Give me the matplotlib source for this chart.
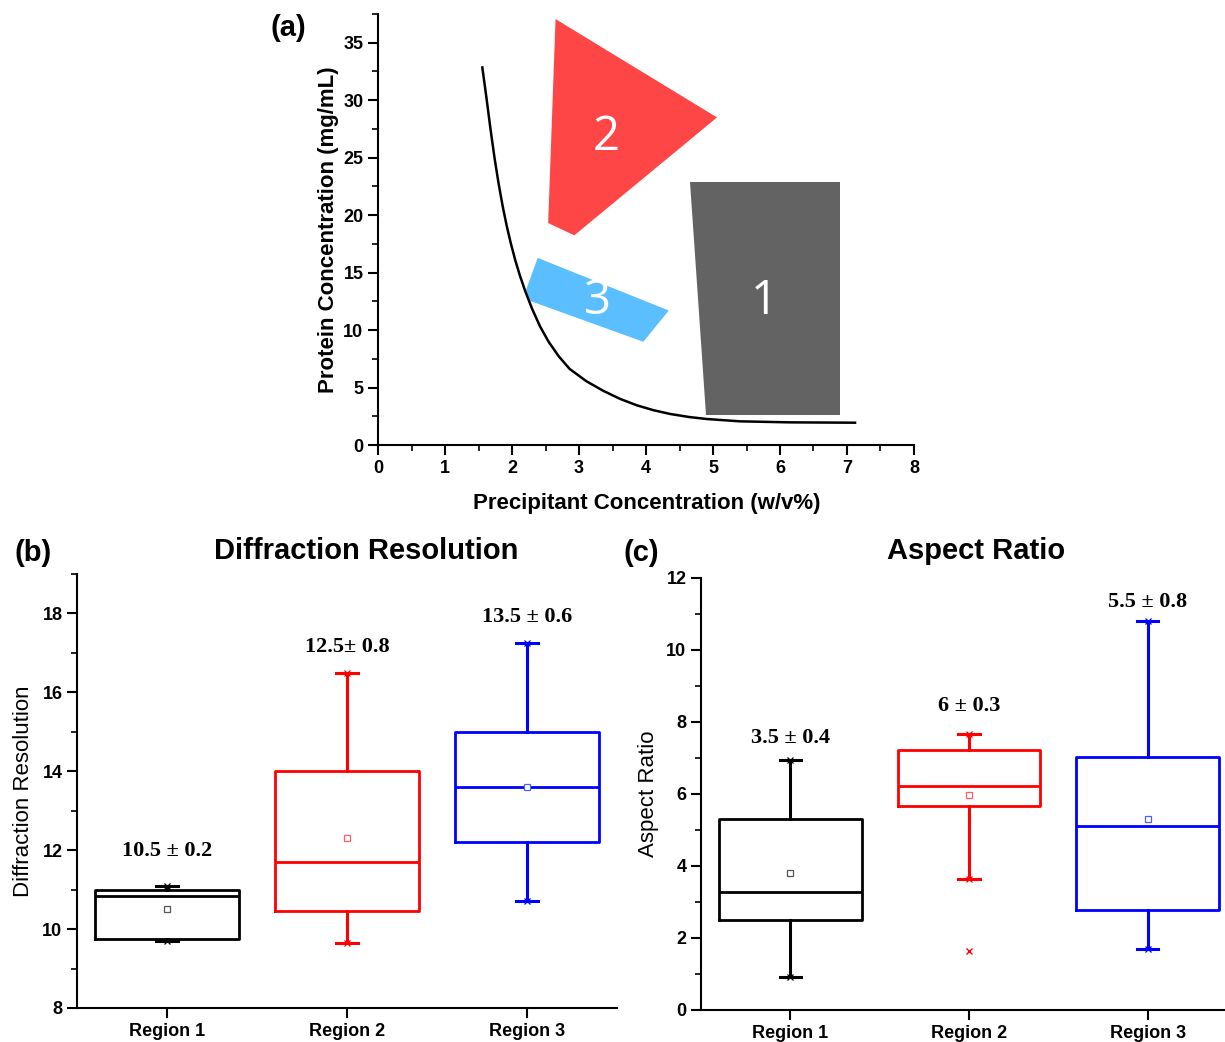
import matplotlib
matplotlib.use('Agg')
import matplotlib.pyplot as plt
from matplotlib.patches import Polygon
from matplotlib.ticker import MultipleLocator

SANS = ['Liberation Sans', 'DejaVu Sans']
SERIF = ['Liberation Serif', 'DejaVu Serif']
plt.rcParams['font.family'] = SANS

# (a) phase diagram: solubility curve
curve_x = [1.557, 1.62, 1.68, 1.74, 1.80, 1.86, 1.92, 1.98, 2.05, 2.12,
           2.20, 2.30, 2.42, 2.55, 2.70, 2.86, 3.11, 3.36, 3.61, 3.86,
           4.11, 4.36, 4.65, 4.91, 5.40, 6.15, 7.12]
curve_y = [32.85, 30.15, 27.45, 24.95, 22.75, 20.80, 19.10, 17.60, 16.05, 14.70,
           13.35, 11.85, 10.30, 8.95, 7.70, 6.62, 5.55, 4.72, 4.02, 3.46,
           3.03, 2.70, 2.43, 2.26, 2.06, 1.97, 1.94]

# shaded regions (polygon corners in data units)
region1_x = [4.66, 6.89, 6.89, 4.90]
region1_y = [22.87, 22.87, 2.60, 2.60]
region2_x = [2.65, 5.06, 2.93, 2.54]
region2_y = [37.06, 28.50, 18.24, 19.31]
region3_x = [2.384, 4.34, 3.96, 2.24, 2.21]
region3_y = [16.28, 11.70, 8.98, 12.60, 13.50]
region_labels = ['1', '2', '3']
label_x = [5.76, 3.40, 3.27]
label_y = [12.5, 26.8, 12.5]

# (b) diffraction resolution box stats
regions = ['Region 1', 'Region 2', 'Region 3']
b_q1 = [9.75, 10.45, 12.21]
b_med = [10.83, 11.71, 13.61]
b_q3 = [11.00, 14.00, 15.00]
b_lo = [9.69, 9.65, 10.71]
b_hi = [11.09, 16.50, 17.24]
b_mean = [10.51, 12.31, 13.60]
b_out = [[], [], []]
b_text = ['10.5 \u00b1 0.2', '12.5\u00b1 0.8', '13.5 \u00b1 0.6']
b_text_y = [11.97, 17.14, 17.90]

# (c) aspect ratio box stats
c_q1 = [2.51, 5.67, 2.79]
c_med = [3.27, 6.23, 5.12]
c_q3 = [5.30, 7.22, 7.02]
c_lo = [0.91, 3.63, 1.69]
c_hi = [6.94, 7.68, 10.81]
c_mean = [3.80, 5.97, 5.31]
c_out = [[], [1.63], []]
c_text = ['3.5 \u00b1 0.4', '6 \u00b1 0.3', '5.5 \u00b1 0.8']
c_text_y = [7.56, 8.44, 11.32]

box_colors = ['black', '#ff0000', '#0000ff']
mean_colors = ['#555555', '#ff6060', '#5060ff']

W, H = 1225, 1042
fig = plt.figure(figsize=(W / 100, H / 100), dpi=100)


def px_axes(left, top, right, bottom):
    return fig.add_axes([left / W, 1 - bottom / H, (right - left) / W, (bottom - top) / H])


def style_axes(ax):
    for s in ['top', 'right']:
        ax.spines[s].set_visible(False)
    for s in ['left', 'bottom']:
        ax.spines[s].set_linewidth(1.5)
    ax.tick_params(which='major', direction='out', length=7, width=1.5, labelsize=13)
    ax.tick_params(which='minor', direction='out', length=4, width=1.2)
    for lab in ax.get_xticklabels() + ax.get_yticklabels():
        lab.set_fontweight('bold')


# ---- panel (a)
ax1 = px_axes(378, 14, 914, 445)
ax1.set_xlim(0, 8)
ax1.set_ylim(0, 37.5)
ax1.xaxis.set_major_locator(MultipleLocator(1))
ax1.xaxis.set_minor_locator(MultipleLocator(0.5))
ax1.yaxis.set_major_locator(MultipleLocator(5))
ax1.yaxis.set_minor_locator(MultipleLocator(2.5))

ax1.add_patch(Polygon(list(zip(region1_x, region1_y)), closed=True, fc='#636363', ec='none', clip_on=False))
ax1.add_patch(Polygon(list(zip(region2_x, region2_y)), closed=True, fc='#ff4646', ec='none', clip_on=False))
ax1.add_patch(Polygon(list(zip(region3_x, region3_y)), closed=True, fc='#5bbfff', ec='none', clip_on=False))
ax1.plot(curve_x, curve_y, color='black', lw=1.8, zorder=3, solid_joinstyle='round')
for t, x, y in zip(region_labels, label_x, label_y):
    ax1.text(x, y, t, color='white', fontsize=34, ha='center', va='center',
             family=['Open Sans', 'DejaVu Sans'], zorder=4)

style_axes(ax1)
ax1.set_ylabel('Protein Concentration (mg/mL)', fontsize=16, fontweight='bold')
ax1.yaxis.set_label_coords(-0.072, 0.5)
ax1.set_xlabel('Precipitant Concentration (w/v%)', fontsize=16, fontweight='bold')
ax1.xaxis.set_label_coords(0.502, -0.112)


def box_panel(ax, q1, med, q3, lo, hi, mean, out, texts, text_y):
    stats = []
    for i in range(3):
        stats.append(dict(q1=q1[i], med=med[i], q3=q3[i], whislo=lo[i], whishi=hi[i],
                          mean=mean[i], fliers=out[i]))
    pos = [1, 2, 3]
    parts = ax.bxp(stats, positions=pos, widths=0.8, capwidths=0.12, showmeans=True,
                   patch_artist=False, manage_ticks=False)
    for i, c in enumerate(box_colors):
        parts['boxes'][i].set(color=c, lw=2)
        parts['medians'][i].set(color=c, lw=2)
        for k in (2 * i, 2 * i + 1):
            parts['whiskers'][k].set(color=c, lw=2.2)
            parts['caps'][k].set(color=c, lw=2.2)
        parts['means'][i].set(marker='s', markersize=4, markerfacecolor='white',
                              markeredgecolor=mean_colors[i], markeredgewidth=0.9)
        parts['fliers'][i].set(marker='x', markersize=5, markeredgecolor=c,
                               markeredgewidth=1)
        ax.plot([pos[i], pos[i]], [lo[i], hi[i]], ls='none', marker='x', markersize=5,
                markeredgecolor=c, markeredgewidth=0.9, zorder=3)
        ax.text(pos[i], text_y[i], texts[i], ha='center', va='center', fontsize=16,
                fontweight='bold', family=SERIF)
    ax.set_xlim(0.5, 3.5)
    ax.set_xticks(pos)
    ax.set_xticklabels(regions)


# ---- panel (b)
ax2 = px_axes(77, 574, 617, 1008)
box_panel(ax2, b_q1, b_med, b_q3, b_lo, b_hi, b_mean, b_out, b_text, b_text_y)
ax2.set_ylim(8, 19)
ax2.yaxis.set_major_locator(MultipleLocator(2))
ax2.yaxis.set_minor_locator(MultipleLocator(1))
style_axes(ax2)
ax2.set_ylabel('Diffraction Resolution', fontsize=16)
ax2.yaxis.set_label_coords(-0.08, 0.5)

# ---- panel (c)
ax3 = px_axes(701, 578, 1237, 1010)
box_panel(ax3, c_q1, c_med, c_q3, c_lo, c_hi, c_mean, c_out, c_text, c_text_y)
ax3.set_ylim(0, 12)
ax3.yaxis.set_major_locator(MultipleLocator(2))
ax3.yaxis.set_minor_locator(MultipleLocator(1))
style_axes(ax3)
ax3.set_ylabel('Aspect Ratio', fontsize=16)
ax3.yaxis.set_label_coords(-0.078, 0.5)

# titles and panel letters
fig.text(366 / W, 1 - 551 / H, 'Diffraction Resolution', ha='center', va='center',
         fontsize=21, fontweight='bold')
fig.text(976 / W, 1 - 551 / H, 'Aspect Ratio', ha='center', va='center',
         fontsize=21, fontweight='bold')
fig.text(288 / W, 1 - 28 / H, '(a)', ha='center', va='center', fontsize=21, fontweight='bold')
fig.text(33 / W, 1 - 553 / H, '(b)', ha='center', va='center', fontsize=21, fontweight='bold')
fig.text(641 / W, 1 - 553 / H, '(c)', ha='center', va='center', fontsize=21, fontweight='bold')

fig.savefig('out.png', dpi=100)
